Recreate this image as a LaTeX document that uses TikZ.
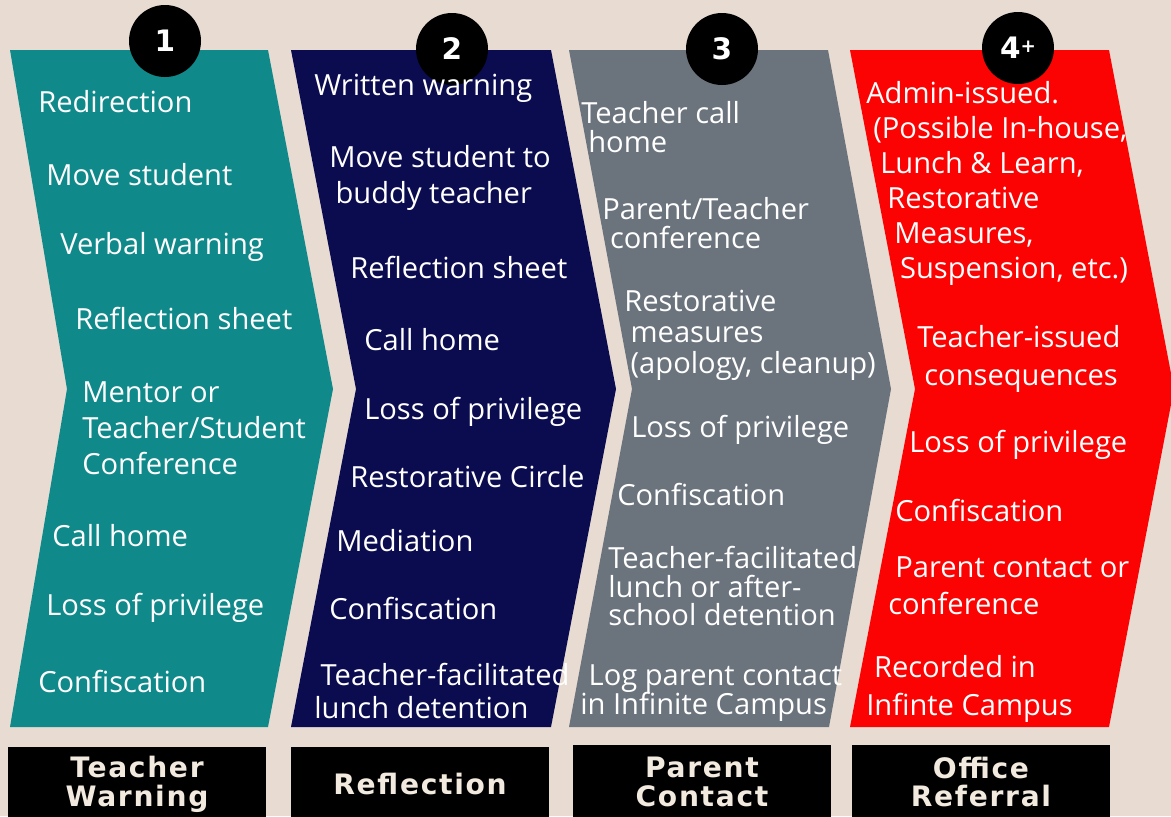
\documentclass[tikz,border=0pt]{standalone}
\usepackage{fontspec}
\usepackage{tikz}
\usetikzlibrary{positioning,shapes}
\newfontfamily\itemfont{Open Sans}
\newfontfamily\tagfont{DejaVu Sans}
\newfontfamily\widefont{DejaVu Sans}[LetterSpace=6]
\definecolor{paper}{HTML}{E8DCD2}
\definecolor{stepteal}{HTML}{10898A}
\definecolor{stepnavy}{HTML}{0B0B4F}
\definecolor{stepgray}{HTML}{6B737D}
\definecolor{stepred}{HTML}{FC0303}
\definecolor{cream}{HTML}{F2EADF}
\def\px{0.025cm} % one pixel of the poster
\tikzset{
        item/.style={anchor=west, inner sep=0pt, align=left, text=white,
                     font=\itemfont\fontsize{20.7}{25.6}\selectfont}, % one consequence
        stage/.style={line join=miter}, % the chevrons
    }
\tikzstyle{badge}=[circle,fill=black,minimum size=72*\px,inner sep=0pt,text=white,font=\tagfont\bfseries\fontsize{21}{21}\selectfont]
\tikzstyle{tag}=[fill=black,minimum width=258*\px,minimum height=74*\px,inner sep=0pt,align=center,text=cream,font=\widefont\bfseries\fontsize{20}{20.6}\selectfont]

\begin{document}
\begin{tikzpicture}[x=\px, y=-\px]
    \useasboundingbox (0,0) rectangle (1171,816);
    \fill[paper] (0,0) rectangle (1171,816);

    % chevrons
    \fill[stage, stepteal] (10,50) -- (268,50) -- (333,389) -- (268,727) -- (10,727) -- (67,389) -- cycle;
    \fill[stage, stepnavy] (291,50) -- (551,50) -- (616,389) -- (551,727) -- (291,727) -- (356,389) -- cycle;
    \fill[stage, stepgray] (569,50) -- (828,50) -- (891,389) -- (829,727) -- (569,727) -- (632,389) -- cycle;
    \fill[stage, stepred] (850,50) -- (1109,50) -- (1174,389) -- (1109,727) -- (850,727) -- (915,389) -- cycle;

    % numbers
    \node[badge] (one) at (165,41) {1};
    \node[badge] (two) at (452,49) {2};
    \node[badge] (three) at (722,49) {3};
    \node[badge] (four) at (1018,48) {4\raisebox{0.2em}{\fontsize{13}{13}\selectfont+}};

    % step 1
    \node[item] (redir) at (38,102) {Redirection};
    \node[item] (move1) at (46,175) {Move student};
    \node[item] (verbal) at (60,247) {Verbal warning};
    \node[item] (sheet1) at (75,319) {Reflection sheet};
    \node[item] (mentor) at (82,428) {Mentor or\\Teacher/Student\\Conference};
    \node[item] (call1) at (52,536) {Call home};
    \node[item] (loss1) at (46,608) {Loss of privilege};
    \node[item] (conf1) at (38,681) {Confiscation};

    % step 2
    \node[item] (written) at (314,88) {Written warning};
    \node[item] (buddy) at (329,178) {Move student to\\\hspace*{4.5pt}buddy teacher};
    \node[item] (sheet2) at (350,268) {Reflection sheet};
    \node[item] (call2) at (364,340) {Call home};
    \node[item] (loss2) at (364,412) {Loss of privilege};
    \node[item] (circle) at (350,477) {Restorative Circle};
    \node[item] (mediate) at (336,541) {Mediation};
    \node[item] (conf2) at (329,608) {Confiscation};
    \node[item] (lunch2) at (314,691) {\hspace*{4.5pt}Teacher-facilitated\\[-2.6pt]lunch detention};

    % step 3
    \node[item] (callteach) at (581,127) {Teacher call\\[-4.6pt]\hspace*{5pt}home};
    \node[item] (ptconf) at (602,223) {Parent/Teacher\\[-4.6pt]\hspace*{5.5pt}conference};
    \node[item] (measures) at (624,335) {Restorative\\[-3.6pt]\hspace*{4.5pt}measures\\[-3.6pt]\hspace*{4.5pt}(apology, cleanup)};
    \node[item] (loss3) at (631,430) {Loss of privilege};
    \node[item] (conf3) at (617,494) {Confiscation};
    \node[item] (detain) at (608,586) {Teacher-facilitated\\[-5.6pt]lunch or after-\\[-5.6pt]school detention};
    \node[item] (logcall) at (580,693) {\hspace*{6pt}Log parent contact\\[-4.6pt]in Infinite Campus};

    % step 4+
    \node[item] (admin) at (866,183) {Admin-issued.\\[-0.7pt]\hspace*{5pt}(Possible In-house,\\[-0.7pt]\hspace*{10pt}Lunch \& Learn,\\[-0.7pt]\hspace*{15pt}Restorative\\[-0.7pt]\hspace*{20pt}Measures,\\[-0.7pt]\hspace*{24pt}Suspension, etc.)};
    \node[item] (issued) at (917,359) {Teacher-issued\\[1.4pt]\hspace*{5pt}consequences};
    \node[item] (loss4) at (909,445) {Loss of privilege};
    \node[item] (conf4) at (895,510) {Confiscation};
    \node[item] (parent) at (888,586) {\hspace*{5pt}Parent contact or\\[0.7pt]conference};
    \node[item] (record) at (866,689) {\hspace*{5.5pt}Recorded in\\[1.4pt]Infinte Campus};

    % labels
    \node[tag] (warn) at (137,784) {Teacher\\Warning};
    \node[tag] (reflect) at (420,784) {Reflection};
    \node[tag] (contact) at (702,782) {Parent\\Contact};
    \node[tag] (office) at (981,782) {Office\\Referral};
\end{tikzpicture}
\end{document}
